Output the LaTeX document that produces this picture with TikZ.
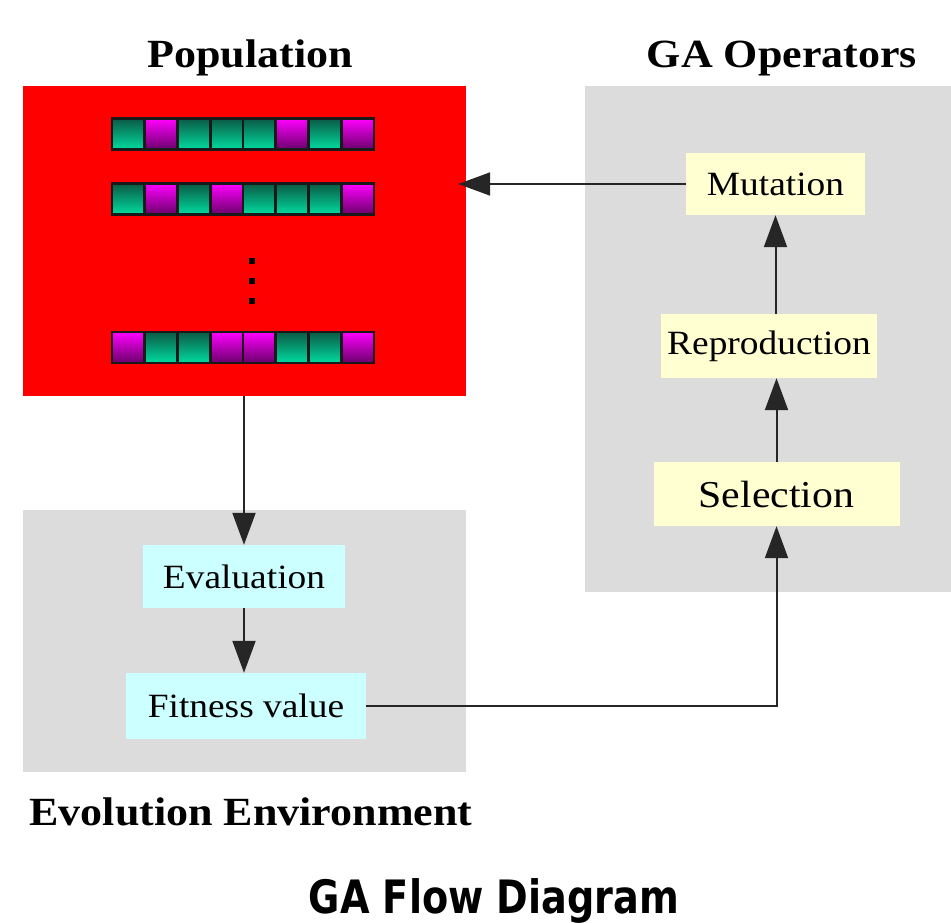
\documentclass[tikz,border=0pt]{standalone}
\usepackage{fontspec}
\setmainfont{Liberation Serif}[FakeStretch=1.1]
\newfontfamily\flowfont{DejaVu Sans}[FakeStretch=0.83]
\usetikzlibrary{arrows.meta}
\definecolor{popred}{HTML}{FF0000}
\definecolor{panelgray}{HTML}{DCDCDC}
\definecolor{opyellow}{HTML}{FFFFD2}
\definecolor{envcyan}{HTML}{CCFFFF}
\definecolor{gtop}{HTML}{0B5A45}
\definecolor{gbot}{HTML}{00DCA0}
\definecolor{mtop}{HTML}{FF00FF}
\definecolor{mbot}{HTML}{6A006A}
\tikzset{
  panel/.style={rectangle, fill=panelgray, draw=none, inner sep=0pt},
  opbox/.style={rectangle, fill=opyellow, draw=none, inner sep=0pt, font=\fontsize{34}{40}\selectfont},
  envbox/.style={rectangle, fill=envcyan, draw=none, inner sep=0pt, font=\fontsize{34}{40}\selectfont},
  titletext/.style={anchor=base, inner sep=0pt, font=\fontsize{40}{48}\selectfont\bfseries},
  flow/.style={draw=black!85, line width=2pt, -{Triangle[length=32pt,width=23pt]}},
  gcell/.style={draw=black!90, line width=2.6pt, top color=gtop, bottom color=gbot},
  mcell/.style={draw=black!90, line width=2.6pt, top color=mtop, bottom color=mbot},
  dotsq/.style={fill=black, draw=none, minimum size=6pt, inner sep=0pt, rectangle}
}
\newcommand{\chromrow}[2]{%
  \foreach \c [count=\i from 0] in {#2} {
    \pgfmathsetmacro{\xa}{112+\i*32.75}
    \pgfmathsetmacro{\xb}{112+(\i+1)*32.75}
    \ifnum\c=1
      \path[gcell] (\xa,#1) rectangle (\xb,#1+31);
    \else
      \path[mcell] (\xa,#1) rectangle (\xb,#1+31);
    \fi
  }%
}
\begin{document}
\begin{tikzpicture}[x=1pt,y=-1pt]
\path[use as bounding box, fill=white] (0,0) rectangle (951,923);

% panels
\node[rectangle, fill=popred, inner sep=0pt, minimum width=443pt, minimum height=310pt] (pop) at (244.5,241) {};
\node[panel, minimum width=366pt, minimum height=506pt] (gaop) at (768,339) {};
\node[panel, minimum width=443pt, minimum height=262pt] (env) at (244.5,641) {};

% titles
\node[titletext] (poptitle) at (250,68) {Population};
\node[titletext] (gatitle) at (782,68) {GA Operators};
\node[titletext] (envtitle) at (251,825) {Evolution Environment};
\node[anchor=base, inner sep=0pt, font=\flowfont\fontsize{46}{54}\selectfont\bfseries] (flowtitle) at (494,913) {GA Flow Diagram};

% chromosomes
\chromrow{118.5}{1,0,1,1,1,0,1,0}
\chromrow{183.5}{1,0,1,0,1,1,1,0}
\chromrow{332}{0,1,1,0,0,1,1,0}
\node[dotsq] (d1) at (252,261) {};
\node[dotsq] (d2) at (252,281) {};
\node[dotsq] (d3) at (252,301) {};

% operator boxes
\node[opbox, minimum width=179pt, minimum height=62pt] (mut) at (775.5,184) {Mutation};
\node[opbox, minimum width=216pt, minimum height=64pt] (rep) at (769,346) {Reproduction};
\node[opbox, minimum width=246pt, minimum height=64pt, font=\fontsize{38}{44}\selectfont] (sel) at (776.5,494) {Selection};

% environment boxes
\node[envbox, minimum width=202pt, minimum height=63pt] (eval) at (244,576.5) {Evaluation};
\node[envbox, minimum width=240pt, minimum height=66pt] (fit) at (246,706) {Fitness value};

% connectors
\draw[flow] (pop.south -| eval.north) -- (eval.north);
\draw[flow] (eval.south) -- (eval.south |- fit.north);
\draw[flow] (fit.east) -| (sel.south);
\draw[flow] (sel.north) -- (sel.north |- rep.south);
\draw[flow] (rep.north -| mut.south) -- (mut.south);
\draw[flow, shorten >=-8pt] (mut.west) -- (mut.west -| pop.east);
\end{tikzpicture}
\end{document}
